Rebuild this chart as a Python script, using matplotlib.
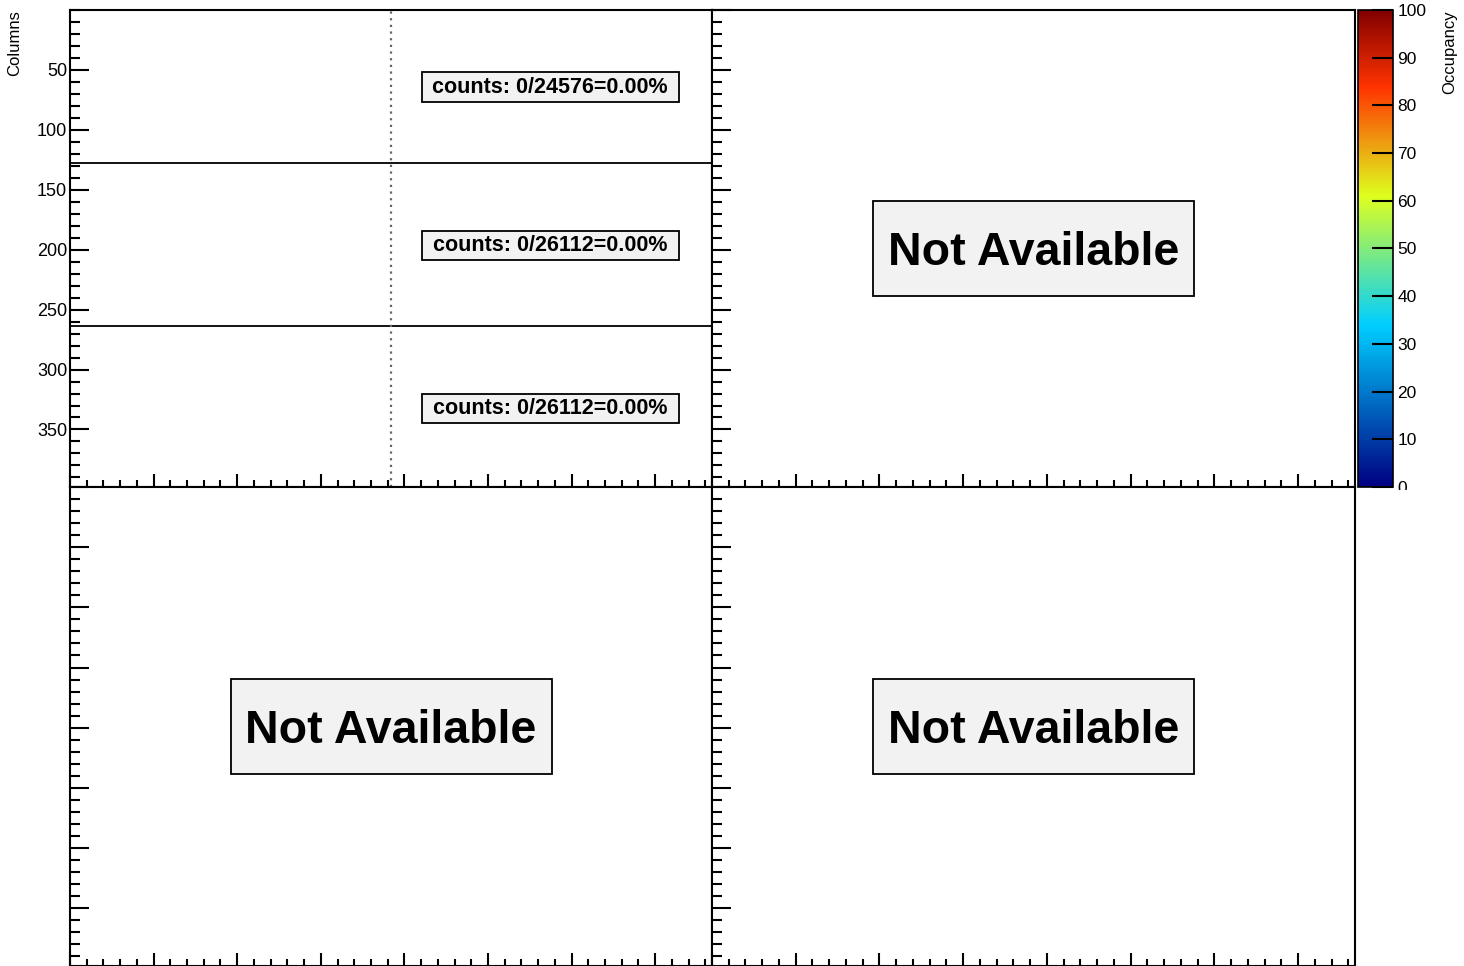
import matplotlib
matplotlib.use("Agg")
import matplotlib.pyplot as plt
from matplotlib.colors import LinearSegmentedColormap, Normalize
from matplotlib.patches import Rectangle
from matplotlib.ticker import MultipleLocator
from matplotlib.transforms import Bbox, TransformedBbox, blended_transform_factory
import matplotlib.cm as cm

plt.rcParams['font.family'] = ['Liberation Sans', 'DejaVu Sans']

# chip layout: 192 columns (x), rows split in three blocks
n_cols = 192
row_edges = [0, 128, 264, 400]
hits = [0, 0, 0]
totals = [24576, 26112, 26112]
col_split = 96
missing_label = "Not Available"
occ_ticks = [0, 10, 20, 30, 40, 50, 60, 70, 80, 90, 100]

# ROOT style palette
stops = [0.00, 0.34, 0.61, 0.84, 1.00]
reds = [0.00, 0.00, 0.87, 1.00, 0.51]
greens = [0.00, 0.81, 1.00, 0.20, 0.00]
blues = [0.51, 1.00, 0.12, 0.00, 0.00]
cmap = LinearSegmentedColormap.from_list(
    "rootpal", [(s, (r, g, b)) for s, r, g, b in zip(stops, reds, greens, blues)])

W, H = 1464, 966
fig = plt.figure(figsize=(W / 100, H / 100), dpi=100)


def pad_axes(x0, y0, x1, y1):
    ax = fig.add_axes([x0 / W, 1 - y1 / H, (x1 - x0) / W, (y1 - y0) / H])
    ax.set_xlim(0, n_cols)
    ax.set_ylim(398, 0)
    ax.xaxis.set_major_locator(MultipleLocator(25))
    ax.xaxis.set_minor_locator(MultipleLocator(5))
    ax.yaxis.set_major_locator(MultipleLocator(50))
    ax.yaxis.set_minor_locator(MultipleLocator(10))
    ax.tick_params(axis='both', which='both', direction='in', width=1.5,
                   top=False, right=False, labelbottom=False, labelleft=False)
    ax.tick_params(axis='y', which='major', length=14)
    ax.tick_params(axis='y', which='minor', length=7)
    ax.tick_params(axis='x', which='major', length=9.5)
    ax.tick_params(axis='x', which='minor', length=5)
    for s in ax.spines.values():
        s.set_linewidth(1.5)
    return ax


ax_tl = pad_axes(70, 10, 712, 487)
ax_tr = pad_axes(712, 10, 1355, 487)
ax_bl = pad_axes(70, 487, 712, 966)
ax_br = pad_axes(712, 487, 1355, 966)

# top-left: occupancy map (all empty)
ax_tl.tick_params(axis='y', labelleft=True, labelsize=13, pad=2)
ax_tl.set_yticks([50, 100, 150, 200, 250, 300, 350])
for edge in row_edges[1:-1]:
    ax_tl.axhline(edge, color='black', lw=1.3)
ax_tl.axvline(col_split, color='#666666', lw=1.6, ls=(0, (1, 2)))
blend = blended_transform_factory(ax_tl.transAxes, ax_tl.transData)
for i in range(len(totals)):
    yc = (row_edges[i] + row_edges[i + 1]) / 2 + 0.5
    frac = 100.0 * hits[i] / totals[i]
    ax_tl.add_patch(Rectangle((0.548, yc - 12.5), 0.4, 25, transform=blend,
                              fc='#f2f2f2', ec='black', lw=1.3, zorder=3))
    ax_tl.text(0.748, yc, "counts: %d/%d=%.2f%%" % (hits[i], totals[i], frac),
               transform=blend, ha='center', va='center', fontsize=15.5,
               fontweight='bold', zorder=4)

fig.text(15 / W, 1 - 10 / H, "Columns", rotation=90, ha='center', va='top', fontsize=12)

for ax in (ax_tr, ax_bl, ax_br):
    ax.add_patch(Rectangle((0.25, 0.4), 0.5, 0.2, transform=ax.transAxes,
                           fc='#f2f2f2', ec='black', lw=1.3, zorder=3))
    ax.text(0.5, 0.49, missing_label, transform=ax.transAxes, ha='center', va='center',
            fontsize=33.5, fontweight='bold', zorder=4)

# colour bar
cax = fig.add_axes([1358 / W, 1 - 487 / H, 35 / W, 477 / H])
sm = cm.ScalarMappable(norm=Normalize(0, 100), cmap=cmap)
cb = fig.colorbar(sm, cax=cax, ticks=occ_ticks)
cb.outline.set_linewidth(1.2)
cax.yaxis.set_ticks_position('right')
cax.tick_params(direction='in', length=15, width=1.5, labelsize=12.5, pad=3)
clip = TransformedBbox(Bbox([[0, 1 - 490 / H], [1, 1]]), fig.transFigure)
for lbl in cax.get_yticklabels():
    lbl.set_clip_box(clip)
    lbl.set_clip_on(True)
fig.text(1450 / W, 1 - 10 / H, "Occupancy", rotation=90, ha='center', va='top', fontsize=12)

fig.savefig("out.png", dpi=100)
